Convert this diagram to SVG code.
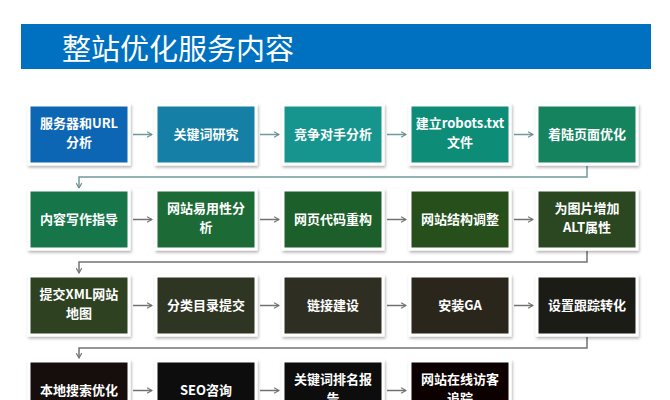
<svg xmlns="http://www.w3.org/2000/svg" width="670" height="400" viewBox="0 0 670 400">
<defs>
<filter id="sh" x="-10%" y="-10%" width="130%" height="130%">
<feDropShadow dx="1" dy="2" stdDeviation="1.5" flood-color="#000" flood-opacity="0.3"/>
</filter>
<marker id="ah" viewBox="0 0 10 10" refX="9" refY="5" markerWidth="7" markerHeight="7" orient="auto" markerUnits="userSpaceOnUse">
<path d="M2,1 L9,5 L2,9" fill="none" stroke="#6f8c8c" stroke-width="1.6"/>
</marker>
<marker id="ah2" viewBox="0 0 10 10" refX="9" refY="5" markerWidth="7" markerHeight="7" orient="auto" markerUnits="userSpaceOnUse">
<path d="M2,1 L9,5 L2,9" fill="none" stroke="#707470" stroke-width="1.6"/>
</marker>
</defs>
<style>
.box{stroke:#fff;stroke-width:3;filter:url(#sh)}
.t{font-family:"Noto Sans CJK SC","Liberation Sans",sans-serif;font-weight:bold;font-size:13px;fill:#fff;text-anchor:middle}
.c1{fill:none;stroke:#6f9a9a;stroke-width:1.5}
.c2{fill:none;stroke:#707470;stroke-width:1.5}
</style>
<rect width="670" height="400" fill="#fff"/>
<g id="title">
<rect x="21" y="24" width="630" height="45" fill="#0070c0"/>
<text x="62" y="60" font-family="Noto Sans CJK SC,Liberation Sans,sans-serif" font-size="29" fill="#fff">整站优化服务内容</text>
</g>
<g id="connectors">
<line class="c1" x1="133" y1="134.5" x2="152" y2="134.5" marker-end="url(#ah)"/>
<line class="c1" x1="260" y1="134.5" x2="279" y2="134.5" marker-end="url(#ah)"/>
<line class="c1" x1="387" y1="134.5" x2="406" y2="134.5" marker-end="url(#ah)"/>
<line class="c1" x1="514" y1="134.5" x2="533" y2="134.5" marker-end="url(#ah)"/>
<polyline class="c1" points="587,166 587,177 79,177 79,188" marker-end="url(#ah)"/>
<line class="c2" x1="133" y1="219.5" x2="152" y2="219.5" marker-end="url(#ah2)"/>
<line class="c2" x1="260" y1="219.5" x2="279" y2="219.5" marker-end="url(#ah2)"/>
<line class="c2" x1="387" y1="219.5" x2="406" y2="219.5" marker-end="url(#ah2)"/>
<line class="c2" x1="514" y1="219.5" x2="533" y2="219.5" marker-end="url(#ah2)"/>
<polyline class="c2" points="587,251 587,262 79,262 79,273" marker-end="url(#ah2)"/>
<line class="c2" x1="133" y1="305.5" x2="152" y2="305.5" marker-end="url(#ah2)"/>
<line class="c2" x1="260" y1="305.5" x2="279" y2="305.5" marker-end="url(#ah2)"/>
<line class="c2" x1="387" y1="305.5" x2="406" y2="305.5" marker-end="url(#ah2)"/>
<line class="c2" x1="514" y1="305.5" x2="533" y2="305.5" marker-end="url(#ah2)"/>
<polyline class="c2" points="587,337 587,348 79,348 79,358" marker-end="url(#ah2)"/>
<line class="c2" x1="133" y1="390.5" x2="152" y2="390.5" marker-end="url(#ah2)"/>
<line class="c2" x1="260" y1="390.5" x2="279" y2="390.5" marker-end="url(#ah2)"/>
<line class="c2" x1="387" y1="390.5" x2="406" y2="390.5" marker-end="url(#ah2)"/>
</g>
<g id="n1"><rect class="box" x="29" y="105" width="100" height="59" fill="#0c66b4"/><text class="t" x="79" y="128">服务器和URL</text><text class="t" x="79" y="147">分析</text></g>
<g id="n2"><rect class="box" x="156" y="105" width="100" height="59" fill="#137fa6"/><text class="t" x="206" y="139">关键词研究</text></g>
<g id="n3"><rect class="box" x="283" y="105" width="100" height="59" fill="#15958f"/><text class="t" x="333" y="139">竞争对手分析</text></g>
<g id="n4"><rect class="box" x="410" y="105" width="100" height="59" fill="#118c78"/><text class="t" x="460" y="128">建立robots.txt</text><text class="t" x="460" y="147">文件</text></g>
<g id="n5"><rect class="box" x="537" y="105" width="100" height="59" fill="#17835e"/><text class="t" x="587" y="139">着陆页面优化</text></g>
<g id="n6"><rect class="box" x="29" y="190" width="100" height="59" fill="#187548"/><text class="t" x="79" y="224">内容写作指导</text></g>
<g id="n7"><rect class="box" x="156" y="190" width="100" height="59" fill="#1b6a36"/><text class="t" x="206" y="213">网站易用性分</text><text class="t" x="206" y="232">析</text></g>
<g id="n8"><rect class="box" x="283" y="190" width="100" height="59" fill="#1f5f29"/><text class="t" x="333" y="224">网页代码重构</text></g>
<g id="n9"><rect class="box" x="410" y="190" width="100" height="59" fill="#264f1f"/><text class="t" x="460" y="224">网站结构调整</text></g>
<g id="n10"><rect class="box" x="537" y="190" width="100" height="59" fill="#2b4620"/><text class="t" x="587" y="213">为图片增加</text><text class="t" x="587" y="232">ALT属性</text></g>
<g id="n11"><rect class="box" x="29" y="276" width="100" height="59" fill="#2e4221"/><text class="t" x="79" y="299">提交XML网站</text><text class="t" x="79" y="318">地图</text></g>
<g id="n12"><rect class="box" x="156" y="276" width="100" height="59" fill="#2f3620"/><text class="t" x="206" y="310">分类目录提交</text></g>
<g id="n13"><rect class="box" x="283" y="276" width="100" height="59" fill="#2e2f20"/><text class="t" x="333" y="310">链接建设</text></g>
<g id="n14"><rect class="box" x="410" y="276" width="100" height="59" fill="#2a271d"/><text class="t" x="460" y="310">安装GA</text></g>
<g id="n15"><rect class="box" x="537" y="276" width="100" height="59" fill="#1d1a16"/><text class="t" x="587" y="310">设置跟踪转化</text></g>
<g id="n16"><rect class="box" x="29" y="361" width="100" height="59" fill="#14100e"/><text class="t" x="79" y="395">本地搜索优化</text></g>
<g id="n17"><rect class="box" x="156" y="361" width="100" height="59" fill="#0c0a09"/><text class="t" x="206" y="395">SEO咨询</text></g>
<g id="n18"><rect class="box" x="283" y="361" width="100" height="59" fill="#090707"/><text class="t" x="333" y="384">关键词排名报</text><text class="t" x="333" y="403">告</text></g>
<g id="n19"><rect class="box" x="410" y="361" width="100" height="59" fill="#070505"/><text class="t" x="460" y="384">网站在线访客</text><text class="t" x="460" y="403">追踪</text></g>
</svg>
